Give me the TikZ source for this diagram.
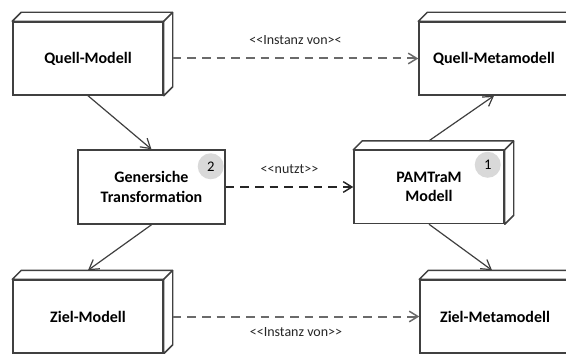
\documentclass[tikz,border=0pt]{standalone}
\usepackage{fontspec}
\setmainfont{Carlito}
\usetikzlibrary{arrows.meta,calc}
\definecolor{linec}{HTML}{404040}
\definecolor{dashc}{HTML}{6A6A6A}
\definecolor{numc}{HTML}{D9D9D9}
\tikzset{
  x=0.75pt, y=-0.75pt,
  boxline/.style={draw=linec, line width=1.1pt},
  box3d/.style={boxline, fill=white, minimum width=112.5pt, minimum height=54.75pt,
    inner sep=0pt, align=center, font=\bfseries\fontsize{12}{14.5}\selectfont},
  flatbox/.style={box3d, minimum width=110.25pt, minimum height=55.5pt},
  numcirc/.style={circle, fill=numc, minimum size=19.5pt, inner sep=0pt, font=\fontsize{11}{13}\selectfont},
  solidarrow/.style={draw=linec, line width=0.9pt, -{Straight Barb[length=7pt,width=8.5pt]}},
  dasharrow/.style={draw=dashc, line width=1.5pt, dash pattern=on 6.5pt off 4.5pt, -{Straight Barb[length=6.5pt,width=8pt,line width=1.1pt]}},
  lbl/.style={font=\fontsize{10.5}{13}\selectfont, text=black!85}
}
\newcommand{\boxdepth}[1]{%
  \draw[boxline, fill=white, line join=round] (#1.north west) -- ++(9,-9) -- ($(#1.north east)+(9,-9)$)
    -- ($(#1.south east)+(9,-9)$) -- (#1.south east) -- (#1.north east) -- cycle;
  \draw[boxline] (#1.north east) -- ++(9,-9);}
\begin{document}
\begin{tikzpicture}
\useasboundingbox (0,0) rectangle (566,353);
\fill[white] (0,0) rectangle (566,353);
\clip (0,0) rectangle (566,353);

\node[box3d] (Q)  at (88,58.5) {Quell-Modell};
\node[box3d] (QM) at (494,58.5) {Quell-Metamodell};
\node[flatbox] (G) at (151.5,187) {Genersiche\\Transformation};
\node[box3d] (P)  at (429,187) {PAMTraM\\Modell};
\node[box3d] (Z)  at (88,316.5) {Ziel-Modell};
\node[box3d] (ZM) at (495,316.5) {Ziel-Metamodell};

\boxdepth{Q}
\boxdepth{QM}
\boxdepth{P}
\boxdepth{Z}
\boxdepth{ZM}

\node[numcirc] (n2) at ($(G.north east)+(-15,17)$) {2};
\node[numcirc] (n1) at ($(P.north east)+(-17,15)$) {1};

\coordinate (qs) at ($(Q.east)+(9,0)$);
\coordinate (zs) at ($(Z.east)+(9,0)$);
\coordinate (ztop) at ($(Z.north)+(0,-9)$);
\coordinate (ptop) at ($(P.north)+(0,-9)$);
\coordinate (zmtop) at ($(ZM.north)+(-3,-9)$);

\draw[solidarrow] (Q.south) -- (G.north);
\draw[solidarrow] (G.south) -- (ztop);
\draw[solidarrow] (ptop) -- (QM.south);
\draw[solidarrow] (P.south) -- (zmtop);

\draw[dasharrow] (qs) -- node[lbl, above=6pt] (l1) {<{}<Instanz von>{}<} (QM.west);
\draw[dasharrow, draw=black!85, line width=1.2pt] (G.east) -- node[lbl, above=6pt] (l2) {<{}<nutzt>{}>} (P.west);
\draw[dasharrow] (zs) -- node[lbl, below=4pt] (l3) {<{}<Instanz von>{}>} (ZM.west);
\end{tikzpicture}
\end{document}
